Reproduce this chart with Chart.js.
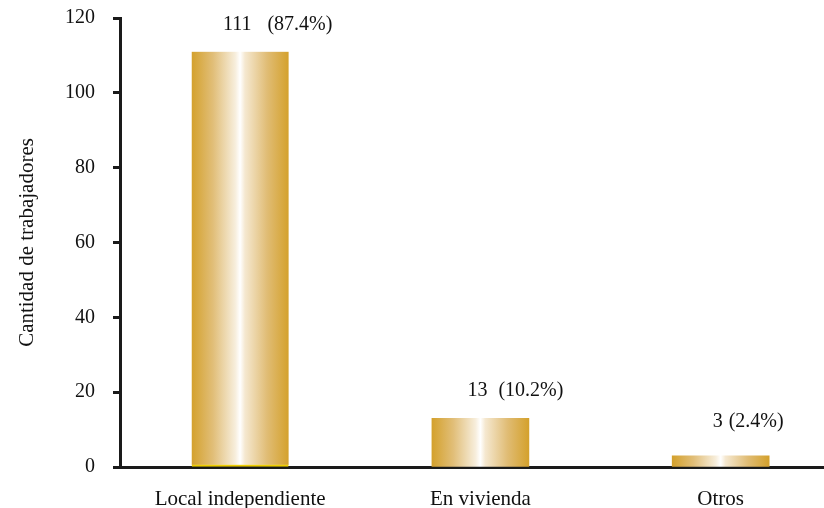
<!DOCTYPE html>
<html>
<head>
<meta charset="utf-8">
<script src="https://cdn.jsdelivr.net/npm/chart.js@4/dist/chart.umd.min.js"></script>
<style>
  html, body { margin: 0; padding: 0; background: #fff; }
  #wrap { width: 824px; height: 508px; }
</style>
</head>
<body>
<div id="wrap"><canvas id="chart"></canvas></div>
<script>
'use strict';

const categorias = ['Local independiente', 'En vivienda', 'Otros'];
const trabajadores = [111, 13, 3];
const porcentajes = ['87.4%', '10.2%', '2.4%'];
const yTicks = [0, 20, 40, 60, 80, 100, 120];

const SERIF = "'Liberation Serif', 'Times New Roman', serif";
const INK = '#111111';

function barGradient(ctx) {
  const chart = ctx.chart;
  if (!chart.chartArea) return '#D6A32F';
  const cx = chart.scales.x.getPixelForValue(ctx.dataIndex);
  const half = 48.5;
  const g = chart.ctx.createLinearGradient(cx - half, 0, cx + half, 0);
  g.addColorStop(0, '#D4A12C');
  g.addColorStop(0.22, '#E1BE78');
  g.addColorStop(0.45, '#F7EEDC');
  g.addColorStop(0.5, '#FFFFFF');
  g.addColorStop(0.55, '#F5E8D0');
  g.addColorStop(0.78, '#E0BC74');
  g.addColorStop(1, '#D4A12C');
  return g;
}

// etiquetas "valor (porcentaje)" encima de cada barra
const etiquetas = {
  id: 'etiquetas',
  afterDatasetsDraw(chart) {
    const c = chart.ctx;
    const meta = chart.getDatasetMeta(0);
    c.save();
    c.font = '20px ' + SERIF;
    c.fillStyle = INK;
    c.textBaseline = 'middle';
    meta.data.forEach((bar, i) => {
      const num = String(trabajadores[i]);
      const y = bar.y - (trabajadores[i] > 100 ? 27 : (trabajadores[i] > 10 ? 28 : 34));
      const numX = bar.x - 3;
      c.textAlign = 'center';
      c.fillText(num, numX, y);
      const numW = c.measureText(num).width;
      c.textAlign = 'left';
      c.fillText('(' + porcentajes[i] + ')', numX + numW / 2 + 5 * num.length + 1, y);
    });
    c.restore();
  }
};

new Chart(document.getElementById('chart'), {
  type: 'bar',
  data: {
    datasets: [{
      data: trabajadores.map((v, i) => ({ x: i, y: v })),
      backgroundColor: barGradient,
      borderColor: ['#F0CF00', 'rgba(0,0,0,0)', 'rgba(0,0,0,0)'],
      borderWidth: ctx => ctx.dataIndex === 0 ? { top: 0, left: 0, right: 0, bottom: 2 } : 0,
      borderSkipped: false,
      barThickness: 97
    }]
  },
  options: {
    responsive: true,
    maintainAspectRatio: false,
    animation: false,
    layout: { padding: { top: 18, right: 0, bottom: 0, left: 0 } },
    plugins: {
      legend: { display: false },
      tooltip: { enabled: false }
    },
    scales: {
      x: {
        type: 'linear',
        offset: false,
        min: -0.5,
        max: 2.43,
        afterBuildTicks: s => { s.ticks = categorias.map((_, i) => ({ value: i })); },
        afterFit: s => { s.height = 41; },
        grid: { display: false, offset: false },
        border: { display: true, color: '#1a1a1a', width: 3 },
        ticks: {
          color: INK,
          font: { family: SERIF, size: 21 },
          padding: 12,
          maxRotation: 0,
          autoSkip: false,
          callback: v => categorias[v]
        }
      },
      y: {
        min: 0,
        max: 120,
        afterBuildTicks: s => { s.ticks = yTicks.map(v => ({ value: v })); },
        afterFit: s => { s.width = 120; },
        grid: {
          display: true,
          drawOnChartArea: false,
          drawTicks: true,
          tickLength: 7,
          tickWidth: 3,
          tickColor: '#1a1a1a'
        },
        border: { display: true, color: '#1a1a1a', width: 3 },
        ticks: {
          color: INK,
          // lineHeight 0 so the top label does not push the plot area down
          font: { family: SERIF, size: 20, lineHeight: 0 },
          padding: 18
        },
        title: {
          display: true,
          text: 'Cantidad de trabajadores',
          color: INK,
          font: { family: SERIF, size: 21 },
          padding: { top: 15, bottom: 0 }
        }
      }
    }
  },
  plugins: [etiquetas]
});
</script>
</body>
</html>
